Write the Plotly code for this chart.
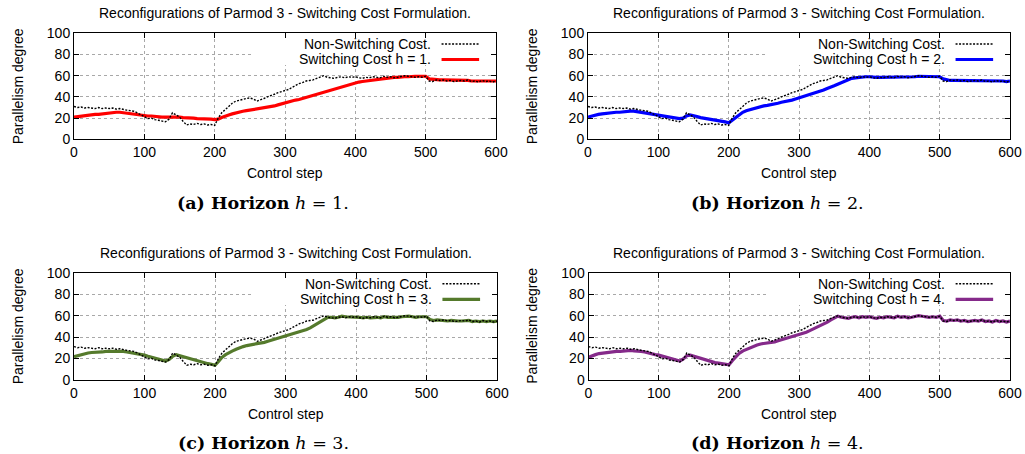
import plotly.graph_objects as go

# Control steps sampled every 5 steps
steps = list(range(0, 601, 5))

# Parallelism degree without switching cost
non_switching = [
    31, 30, 30.5, 29.5, 30, 29.5, 29, 30, 29, 29.5,
    29, 29.5, 28.5, 29, 28, 27.5, 27, 26.5, 25, 23,
    21, 19.5, 20, 18.5, 18, 17, 16.5, 19, 25, 23,
    21, 17, 13.5, 14.5, 14, 15, 14, 14.5, 13.5, 14,
    13, 20, 25, 28, 31, 34, 36, 37, 38, 38.5,
    39, 38, 36, 37, 38.5, 40, 41, 42.5, 44, 45,
    46.5, 47, 49, 51, 52.5, 53.5, 55, 55.5, 56, 57.5,
    59, 60, 58.5, 58, 57.5, 58.5, 59, 58, 59, 58.5,
    59, 58, 57.5, 58.5, 58, 59, 58.5, 58, 59.5, 58.5,
    59, 58, 58.5, 59, 60, 59.5, 59, 58.5, 59, 58.5,
    59.5, 55, 54.5, 56, 55.5, 56, 55, 55.5, 54.5, 55,
    55.5, 55, 56, 54.5, 55, 54, 55.5, 54.5, 55, 54,
    55,
]

# Parallelism degree with switching cost, horizon h = 1..4
switching_h1 = [
    21, 21.5, 22, 22.5, 23, 23, 23.5, 23.5, 24, 24.5,
    24.5, 25, 25.5, 25.5, 25, 24.5, 24, 24, 23.5, 23,
    22, 22, 22, 21.5, 21.5, 21, 21, 21, 21.5, 21.5,
    21, 20.5, 20.5, 20, 20, 19.5, 19.5, 19, 19, 19,
    18.5, 19, 20.5, 22, 23, 24, 25, 26, 26.5, 27,
    27.5, 28, 28.5, 29, 29.5, 30, 31, 31.5, 32.5, 33.5,
    34, 35, 36, 37, 37.5, 38.5, 39.5, 40.5, 41.5, 42.5,
    43.5, 44.5, 45.5, 46.5, 47.5, 48.5, 49.5, 50.5, 51.5, 52.5,
    53, 54, 54.5, 55, 55.5, 56, 56.5, 57, 57.5, 58,
    58, 58.5, 58.5, 59, 59, 59, 59.5, 59.5, 59.5, 59.5,
    59.5, 57, 56.5, 56.5, 56, 56, 56, 55.5, 55.5, 55.5,
    55.5, 55.5, 55.5, 55, 55, 55, 55, 55, 55, 55,
    55,
]
switching_h2 = [
    21, 22, 23, 23.5, 24, 24.5, 25, 25, 25.5, 25.5,
    26, 26, 26.5, 26.5, 26, 25.5, 25, 24, 23.5, 23,
    22.5, 22, 21.5, 21, 20.5, 20, 19.5, 20, 22, 23,
    22.5, 21.5, 20.5, 20, 19.5, 19, 18, 17.5, 17, 16.5,
    15.5, 18, 21, 23.5, 25.5, 27, 28, 29, 30, 30.5,
    31.5, 32, 32.5, 33, 34, 35, 35.5, 36.5, 37, 38,
    39, 40, 41, 42, 43, 44, 45, 46.5, 48, 49,
    50.5, 52, 53.5, 55, 56.5, 57.5, 58, 58.5, 59, 59,
    59, 58.5, 58.5, 58.5, 58.5, 58.5, 59, 58.5, 59, 58.5,
    59, 58.5, 59, 59, 59.5, 59.5, 59, 59, 59, 59,
    59, 57, 56, 55.5, 55.5, 55.5, 55, 55, 55, 55,
    55.5, 55, 55.5, 55, 55, 55, 55, 55, 55, 54.5,
    55,
]
switching_h3 = [
    21.5, 22.5, 23.5, 24.5, 25, 25.5, 25.5, 26, 26, 26.5,
    26.5, 27, 27, 27, 26.5, 26, 25.5, 25, 24, 23.5,
    23, 22, 21, 20, 19, 18.5, 17.5, 19, 22, 23.5,
    22.5, 21.5, 20.5, 19.5, 18.5, 17.5, 16.5, 16, 15, 14.5,
    13.5, 17, 21, 23.5, 25.5, 27, 28.5, 30, 31, 32,
    32.5, 33, 33.5, 34, 35, 36, 37, 38, 39, 39.5,
    40.5, 41.5, 42.5, 43.5, 44.5, 45.5, 47, 48.5, 50.5, 52.5,
    54.5, 56.5, 58.5, 58.5, 58, 58.5, 59.5, 59, 59, 58.5,
    59, 58.5, 58, 58.5, 58, 58.5, 58.5, 58, 59, 58.5,
    58.5, 58, 58.5, 59, 59.5, 59.5, 59, 58.5, 59, 59,
    59, 56.5, 55.5, 56, 55.5, 55.5, 55, 55.5, 55, 55,
    55, 55, 55.5, 54.5, 55, 54.5, 55, 54.5, 55, 54.5,
    55,
]
switching_h4 = [
    21, 22.5, 23.5, 24.5, 25, 25.5, 25.5, 26, 26.5, 26.5,
    27, 27, 27.5, 27, 27, 26.5, 26, 25, 24.5, 23.5,
    23, 22, 21, 20, 19, 18, 17.5, 19.5, 22.5, 23,
    22, 21, 19.5, 18.5, 17.5, 16.5, 16, 15.5, 15, 14.5,
    14, 18, 22, 25, 27, 28.5, 30, 31.5, 32.5, 33.5,
    34, 34.5, 34.5, 35.5, 36.5, 37.5, 38.5, 39.5, 40.5, 41,
    42, 43, 44.5, 46, 47.5, 49, 50.5, 52, 54, 56,
    58, 59.5, 58.5, 58, 57.5, 58.5, 59, 58, 59, 58.5,
    59, 58, 57.5, 58.5, 58, 59, 58.5, 58, 59.5, 58.5,
    59, 58, 58.5, 59, 60, 59.5, 59, 58.5, 59, 58.5,
    59.5, 55.5, 55, 56, 55.5, 56, 55, 55.5, 54.5, 55,
    55.5, 55, 56, 54.5, 55, 54, 55.5, 54.5, 55, 54,
    55,
]

x_ticks = [0, 100, 200, 300, 400, 500, 600]
y_ticks = [0, 20, 40, 60, 80, 100]
x_range = [0, 600]
y_range = [0, 100]

title_text = "Reconfigurations of Parmod 3 - Switching Cost Formulation."
x_title = "Control step"
y_title = "Parallelism degree"
base_label = "Non-Switching Cost."

panels = [
    dict(tag="a", h=1, values=switching_h1, color="#ff0000"),
    dict(tag="b", h=2, values=switching_h2, color="#0000ff"),
    dict(tag="c", h=3, values=switching_h3, color="#557a2c"),
    dict(tag="d", h=4, values=switching_h4, color="#852a8a"),
]

W, H = 1025, 454
# plot-area rectangles in pixels: (left, right, top, bottom)
boxes = [
    (74, 496, 33.3, 139.3),
    (588, 1010, 33.3, 139.3),
    (74, 497, 273, 379.7),
    (588.5, 1010, 273, 379.7),
]

SANS = "Liberation Sans"
SERIF = "DejaVu Serif"
BASE_LINE = dict(color="black", width=1.4, dash="2px,1.5px")


def frac(lo, hi, f):
    return lo + (hi - lo) * f


fig = go.Figure()
layout_axes = {}
annotations = []
shapes = []

for i, (p, box) in enumerate(zip(panels, boxes), start=1):
    left, right, top, bottom = box
    sfx = "" if i == 1 else str(i)
    xa, ya = "x" + sfx, "y" + sfx
    xdom = [left / W, right / W]
    ydom = [1 - bottom / H, 1 - top / H]

    common = dict(
        showgrid=True, gridcolor="#a8a8a8", griddash="dot", gridwidth=1,
        showline=True, linecolor="black", linewidth=1, mirror="allticks",
        ticks="inside", ticklen=5, tickcolor="black", tickwidth=1,
        tickfont=dict(family=SANS, size=14, color="black"),
        zeroline=False, fixedrange=True, automargin=False,
    )
    layout_axes["xaxis" + sfx] = dict(
        domain=xdom, range=x_range, tickvals=x_ticks, anchor=ya, **common
    )
    layout_axes["yaxis" + sfx] = dict(
        domain=ydom, range=y_range, tickvals=y_ticks, anchor=xa, **common
    )

    fig.add_trace(go.Scatter(
        x=steps, y=p["values"], mode="lines", xaxis=xa, yaxis=ya,
        line=dict(color=p["color"], width=3.2), showlegend=False,
        name=f"Switching Cost h = {p['h']}.",
    ))
    fig.add_trace(go.Scatter(
        x=steps, y=non_switching, mode="lines", xaxis=xa, yaxis=ya,
        line=BASE_LINE, showlegend=False, name=base_label,
    ))

    # key area: opaque background that hides the grid behind the key
    shapes.append(dict(
        type="rect", xref=xa, yref=ya,
        x0=frac(*x_range, 0.424), x1=x_range[1],
        y0=frac(*y_range, 0.70), y1=y_range[1],
        fillcolor="white", line=dict(width=0), layer="between",
    ))
    key_rows = [
        (0.899, base_label, BASE_LINE),
        (0.753, f"Switching Cost h = {p['h']}.", dict(color=p["color"], width=3.2)),
    ]
    for ky, label, lstyle in key_rows:
        annotations.append(dict(
            xref=f"{xa} domain", yref=f"{ya} domain", x=0.85, y=ky,
            xanchor="right", yanchor="middle", text=label, showarrow=False,
            font=dict(family=SANS, size=14, color="black"),
        ))
        shapes.append(dict(
            type="line", xref=xa, yref=ya,
            x0=frac(*x_range, 0.871), x1=frac(*x_range, 0.96),
            y0=frac(*y_range, ky), y1=frac(*y_range, ky),
            line=lstyle, layer="above",
        ))

    cx = (left + right) / 2
    # chart title
    annotations.append(dict(
        xref="paper", yref="paper", x=cx / W, y=1 - (top - 20.5) / H,
        xanchor="center", yanchor="middle", text=title_text, showarrow=False,
        font=dict(family=SANS, size=14, color="black"),
    ))
    # x axis title
    annotations.append(dict(
        xref="paper", yref="paper", x=cx / W, y=1 - (bottom + 34) / H,
        xanchor="center", yanchor="middle", text=x_title, showarrow=False,
        font=dict(family=SANS, size=14, color="black"),
    ))
    # y axis title
    annotations.append(dict(
        xref="paper", yref="paper", x=(left - 56) / W, y=1 - (top + bottom) / 2 / H,
        xanchor="center", yanchor="middle", text=y_title, textangle=-90,
        showarrow=False, font=dict(family=SANS, size=14, color="black"),
    ))
    # sub-figure caption
    annotations.append(dict(
        xref="paper", yref="paper", x=(cx - 22) / W, y=1 - (bottom + 63.5) / H,
        xanchor="center", yanchor="middle",
        text=f"<b>({p['tag']}) Horizon</b> <i>h</i> = {p['h']}.",
        showarrow=False, font=dict(family=SERIF, size=17.5, color="black"),
    ))

fig.update_layout(
    width=W, height=H,
    margin=dict(l=0, r=0, t=0, b=0, pad=0, autoexpand=False),
    paper_bgcolor="white", plot_bgcolor="white",
    annotations=annotations, shapes=shapes, **layout_axes,
)

fig.write_html("out.html", config={"displayModeBar": False})
